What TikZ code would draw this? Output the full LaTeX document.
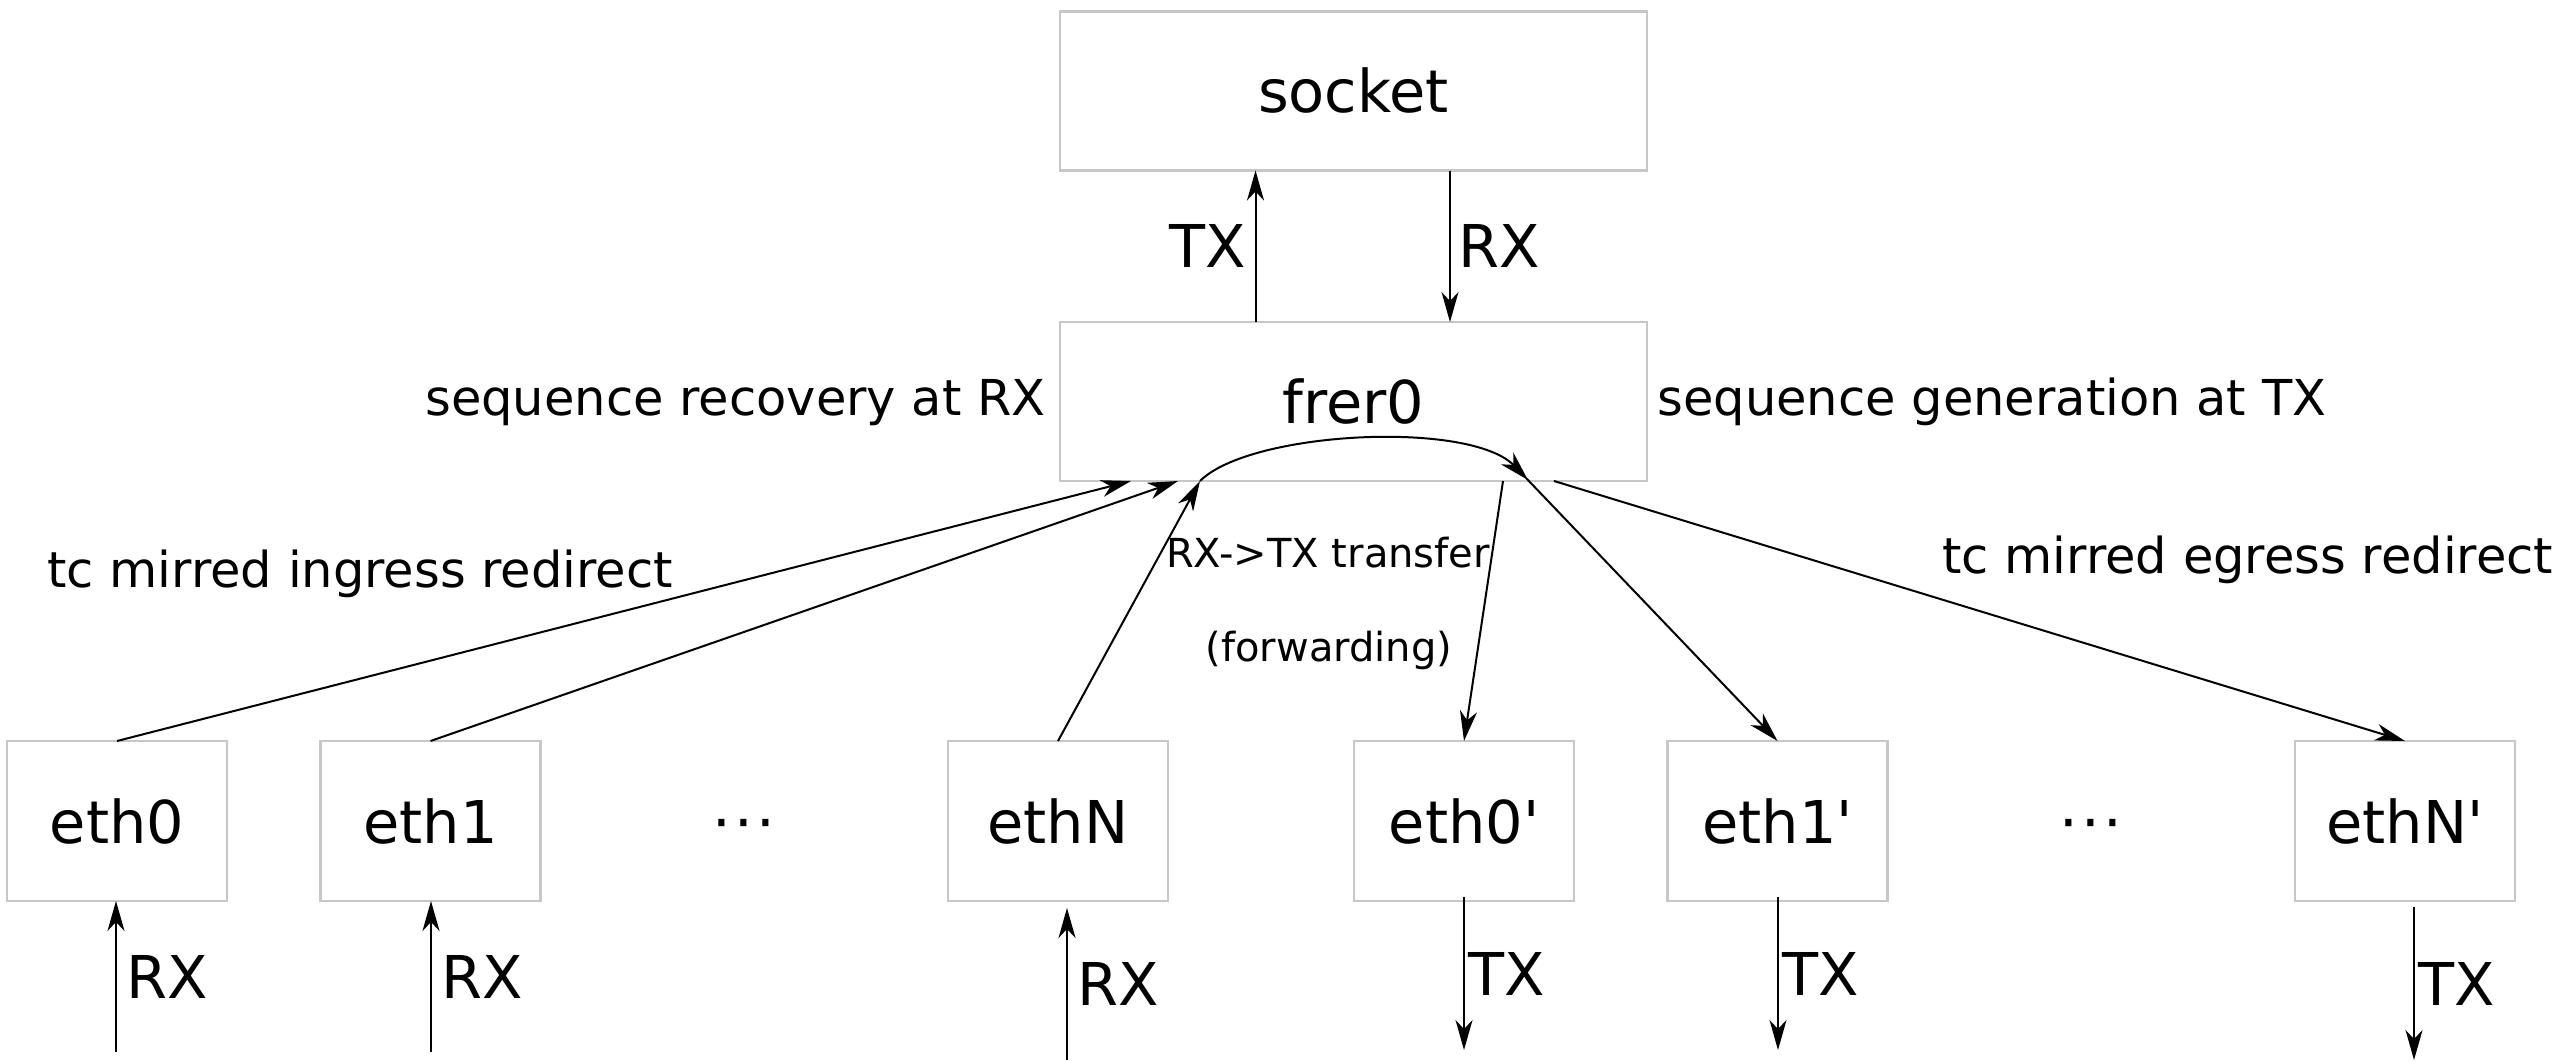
\documentclass[tikz,border=0pt]{standalone}
\usepackage{fontspec}
\setmainfont{DejaVu Sans}[Ligatures=TeXOff]
\usetikzlibrary{arrows.meta}
\begin{document}
\begin{tikzpicture}[x=0.5pt,y=-0.5pt,
  box/.style={draw=black!22, line width=1.2pt, fill=white, inner sep=0pt, outer sep=0pt,
              font=\fontsize{29.5}{34}\selectfont},
  bigbox/.style={box, minimum width=293.5pt, minimum height=79.5pt},
  ethbox/.style={box, minimum width=110pt, minimum height=80pt},
  arr/.style={-{Stealth[length=15pt,width=8.5pt,inset=4.5pt]}, line width=1pt},
  lbl/.style={font=\fontsize{29.5}{34}\selectfont, inner sep=0pt},
  side/.style={font=\fontsize{24.75}{30}\selectfont, inner sep=0pt},
  mid/.style={font=\fontsize{20}{24}\selectfont, inner sep=0pt},
]
\useasboundingbox (0,0) rectangle (2560,1061);

% upper boxes
\node[bigbox] (socket) at (1353.5,91) {socket};
\node[bigbox] (frer0) at (1353.5,401.5) {frer0};

% interfaces
\node[ethbox] (eth0)  at (117,821)    {eth0};
\node[ethbox] (eth1)  at (430.5,821)  {eth1};
\node[ethbox] (ethN)  at (1058,821)   {ethN};
\node[ethbox] (eth0p) at (1464,821)   {eth0'};
\node[ethbox] (eth1p) at (1777.5,821) {eth1'};
\node[ethbox] (ethNp) at (2405,821)   {ethN'};

\node[lbl, anchor=base] (dotsL) at (744,843)  {·\hspace{1.6pt}·\hspace{1.6pt}·};
\node[lbl, anchor=base] (dotsR) at (2091,843) {·\hspace{1.6pt}·\hspace{1.6pt}·};

% side annotations
\node[side, anchor=base east] (seqrx) at (1046,415) {sequence recovery at RX};
\node[side, anchor=base west] (seqtx) at (1657,415) {sequence generation at TX};
\node[side, anchor=base west] (ingress) at (47,587) {tc mirred ingress redirect};
\node[side, anchor=base west] (egress) at (1942,573) {tc mirred egress redirect};
\node[mid, anchor=base] (transfer) at (1328,567) {RX->TX transfer};
\node[mid, anchor=base] (fwd) at (1329,661) {(forwarding)};

% socket <-> frer0
\draw[arr] ([xshift=-49pt]frer0.north) -- node[lbl, midway, left=4.5pt] {TX} ([xshift=-49pt]socket.south);
\draw[arr] ([xshift=48.25pt]socket.south) -- node[lbl, midway, right=3.5pt] {RX} ([xshift=48.25pt]frer0.north);

% ingress redirects
\draw[arr] (eth0.north) -- ([xshift=-111.25pt]frer0.south);
\draw[arr] (eth1.north) -- ([xshift=-87.75pt]frer0.south);
\draw[arr] (ethN.north) -- ([xshift=-76.75pt]frer0.south);

% RX -> TX transfer inside frer0
\draw[arr] ([xshift=-76.75pt]frer0.south) .. controls +(50,-50) and +(-58,-60) .. ([xshift=87.25pt,yshift=0.5pt]frer0.south);

% egress redirects
\draw[arr] ([xshift=74.75pt]frer0.south) -- (eth0p.north);
\draw[arr] ([xshift=86.25pt,yshift=1.5pt]frer0.south) -- (eth1p.north);
\draw[arr] ([xshift=100.25pt]frer0.south) -- (ethNp.north);

% wire side of the interfaces
\coordinate (rx0) at (116,1052);
\coordinate (rx1) at (431,1052);
\coordinate (rxN) at (1067,1060);
\coordinate (tx0) at (1464,1050);
\coordinate (tx1) at (1778,1050);
\coordinate (txN) at (2414,1060);

\draw[arr] (rx0) -- node[lbl, midway, right=4.5pt] {RX} (rx0 |- eth0.south);
\draw[arr] (rx1) -- node[lbl, midway, right=4.5pt] {RX} (rx1 |- eth1.south);
\draw[arr] (rxN) -- node[lbl, midway, right=4.5pt] {RX} ([yshift=-3.5pt]rxN |- ethN.south);
\draw[arr] ([yshift=2pt]tx0 |- eth0p.south) -- node[lbl, midway, right=1.5pt] {TX} (tx0);
\draw[arr] ([yshift=2pt]tx1 |- eth1p.south) -- node[lbl, midway, right=1.5pt] {TX} (tx1);
\draw[arr] ([yshift=-3pt]txN |- ethNp.south) -- node[lbl, midway, right=1.5pt] {TX} (txN);
\end{tikzpicture}
\end{document}
